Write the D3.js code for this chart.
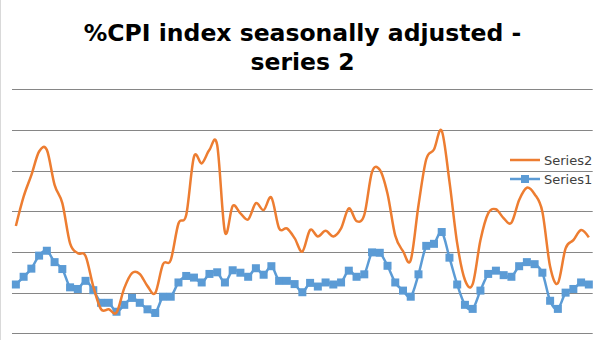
<!DOCTYPE html>
<html><head><meta charset="utf-8">
<script src="https://cdn.jsdelivr.net/npm/d3@7"></script>
<style>body{margin:0;background:#fff;}svg{display:block;font-family:"DejaVu Sans",sans-serif;}</style>
</head><body>
<svg id="chart" width="605" height="340"></svg>
<script>
const series2 = [2.64,3.36,3.89,4.47,4.51,3.65,3.20,2.21,1.97,1.90,1.15,0.59,0.59,0.51,1.11,1.48,1.46,1.16,0.99,1.70,1.80,2.70,2.91,4.34,4.18,4.51,4.63,2.49,3.13,2.95,2.80,3.20,3.03,3.34,2.58,2.58,2.34,2.01,2.54,2.38,2.52,2.38,2.58,3.07,2.76,2.91,3.97,4.02,3.43,2.40,2.02,1.80,3.15,4.28,4.52,4.98,3.73,2.21,1.31,1.21,2.29,2.95,3.05,2.83,2.72,3.28,3.58,3.42,2.99,1.64,1.23,2.09,2.29,2.54,2.36];
const series1 = [1.20,1.39,1.59,1.91,2.03,1.75,1.58,1.13,1.09,1.29,1.06,0.75,0.75,0.53,0.70,0.87,0.75,0.59,0.50,0.90,0.90,1.25,1.41,1.37,1.25,1.46,1.50,1.25,1.55,1.49,1.39,1.60,1.44,1.65,1.29,1.29,1.21,1.01,1.24,1.15,1.25,1.20,1.25,1.54,1.39,1.45,1.99,1.98,1.66,1.25,1.05,0.90,1.45,2.15,2.20,2.49,1.86,1.20,0.70,0.60,1.05,1.46,1.54,1.43,1.39,1.65,1.75,1.70,1.49,0.80,0.60,1.00,1.09,1.25,1.20];
const categories = d3.range(1, series1.length + 1);
const yTicks = [0,1,2,3,4,5,6];
const titleLines = ["%CPI index seasonally adjusted -", "series 2"];
const legendNames = ["Series2", "Series1"];

(function(){
const svg = d3.select("#chart");
const C2 = "#ED7D31", C1 = "#5B9BD5";
const pL = 12, pR = 592.7, pT = 89.3, pB = 333.3;

svg.append("line").attr("x1",0.5).attr("x2",0.5).attr("y1",0).attr("y2",340).attr("stroke","#d9d9d9");

const x = d3.scaleBand().domain(categories).range([pL, pR]);
const y = d3.scaleLinear().domain([0, 6]).range([pB, pT]);
const cx = d => x(d) + x.bandwidth()/2;

svg.append("g").selectAll("line").data(yTicks).join("line")
  .attr("x1", pL).attr("x2", pR)
  .attr("y1", d => Math.round(y(d)) + 0.5).attr("y2", d => Math.round(y(d)) + 0.5)
  .attr("stroke", "#868686").attr("stroke-width", 1);

svg.append("g").selectAll("text").data(titleLines).join("text")
  .attr("x", 302.5).attr("y", (d,i) => 41 + i*29)
  .attr("text-anchor", "middle").attr("font-size", "23.5px").attr("font-weight", "bold")
  .attr("fill", "#000").text(d => d);

const line = d3.line().curve(d3.curveCatmullRom.alpha(0)).x((d,i) => cx(categories[i])).y(d => y(d));

svg.append("path").datum(series1).attr("d", line).attr("fill","none").attr("stroke",C1).attr("stroke-width",2.5);
svg.append("g").selectAll("rect").data(series1).join("rect")
  .attr("x", (d,i) => cx(categories[i]) - 4).attr("y", d => y(d) - 4)
  .attr("width", 8).attr("height", 8).attr("fill", C1);
svg.append("path").datum(series2).attr("d", line).attr("fill","none").attr("stroke",C2).attr("stroke-width",2.5);

const lg = svg.append("g");
legendNames.forEach((n, i) => {
  const ly = 160 + i*19;
  const col = i === 0 ? C2 : C1;
  lg.append("line").attr("x1", 510).attr("x2", 540).attr("y1", ly).attr("y2", ly).attr("stroke", col).attr("stroke-width", 2.5);
  if (i === 1) lg.append("rect").attr("x", 521).attr("y", ly-4).attr("width",8).attr("height",8).attr("fill", col);
  lg.append("text").attr("x", 544).attr("y", ly + 4.5).attr("font-size", "13px").attr("fill", "#404040").text(n);
});
})();
</script>
</body></html>
